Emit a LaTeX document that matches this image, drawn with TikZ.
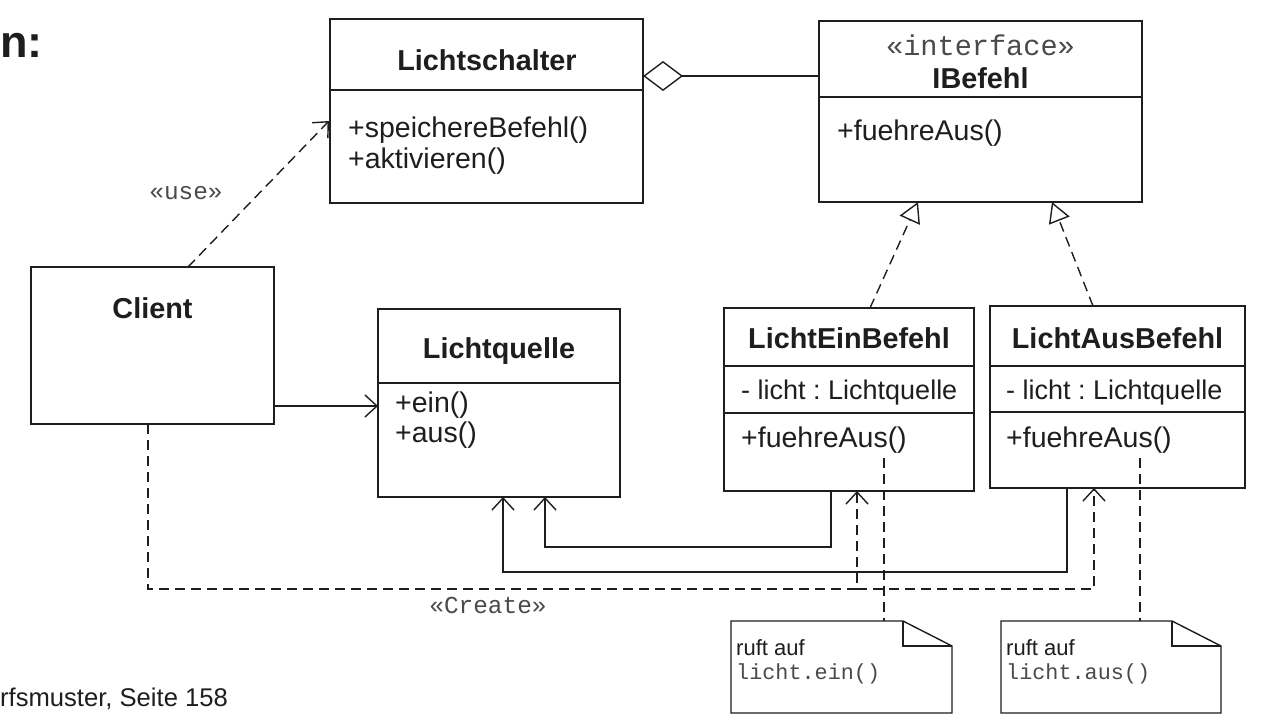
\documentclass[tikz,border=0pt]{standalone}
\usepackage{fontspec}
\setmainfont{Liberation Sans}
\setmonofont{Liberation Mono}
\usetikzlibrary{arrows.meta,calc}
\definecolor{ink}{HTML}{1E1E1E}
\definecolor{stereo}{HTML}{4A4A4A}
\frenchspacing
\begin{document}
\begin{tikzpicture}[x=1pt,y=-1pt,
  box/.style={draw=ink,line width=1.5pt,anchor=north west,inner sep=0pt,outer sep=0pt},
  ghost/.style={anchor=north west,inner sep=0pt,outer sep=0pt},
  sepline/.style={draw=ink,line width=1.4pt},
  ttl/.style={font=\fontsize{28.8}{30}\selectfont\bfseries,text=ink,anchor=base,inner sep=0pt},
  mem/.style={font=\fontsize{28.5}{30}\selectfont,text=ink,anchor=base west,inner sep=0pt},
  ster/.style={font=\ttfamily\fontsize{24.4}{26}\selectfont,text=stereo,anchor=base,inner sep=0pt},
  notetxt/.style={font=\fontsize{22}{24}\selectfont,text=ink,anchor=base west,inner sep=0pt},
  notecode/.style={font=\ttfamily\fontsize{21.8}{24}\selectfont,text=stereo,anchor=base west,inner sep=0pt},
  conn/.style={draw=ink,line width=1.4pt},
  dep/.style={conn,dash pattern=on 10pt off 6pt},
  opentip/.style={-{Straight Barb[length=12pt,width=22pt,line width=1.4pt]}},
  realtip/.style={-{Triangle[open,length=20pt,width=22pt,line width=1.4pt,fill=white]}},
  aggtip/.style={-{Diamond[open,length=40pt,width=30pt,line width=1.4pt,fill=white]}}
]
\useasboundingbox[fill=white] (0,0) rectangle (1286,728);

% header / footer texts
\node[anchor=base west,inner sep=0pt,font=\fontsize{45}{47}\selectfont\bfseries,text=ink] (title) at (0,57) {n:};
\node[anchor=base west,inner sep=0pt,font=\fontsize{25.6}{27}\selectfont,text=ink] (footer) at (0,706) {rfsmuster, Seite 158};

% Lichtschalter
\node[box,minimum width=313pt,minimum height=184pt] (ls) at (330,19) {};
\draw[sepline] ($(ls.north west)+(0,71)$) -- ($(ls.north east)+(0,71)$);
\node[ttl] (lsT) at (487,70) {Lichtschalter};
\node[mem] (lsM1) at (348,137) {+speichereBefehl()};
\node[mem] (lsM2) at (348,168) {+aktivieren()};

% IBefehl
\node[box,minimum width=323pt,minimum height=181pt] (ib) at (819,21) {};
\draw[sepline] ($(ib.north west)+(0,76)$) -- ($(ib.north east)+(0,76)$);
\node[ster,font=\ttfamily\fontsize{28.6}{30}\selectfont] (ibS) at (980.5,55) {«interface»};
\node[ttl] (ibT) at (980.5,88) {IBefehl};
\node[mem] (ibM) at (837,140) {+fuehreAus()};

% Client
\node[box,minimum width=243pt,minimum height=157pt] (client) at (31,267) {};
\node[ttl] (clT) at (152.5,318) {Client};

% Lichtquelle
\node[box,minimum width=242pt,minimum height=188pt] (lq) at (378,309) {};
\draw[sepline] ($(lq.north west)+(0,74)$) -- ($(lq.north east)+(0,74)$);
\node[ttl] (lqT) at (499,358) {Lichtquelle};
\node[mem] (lqM1) at (395,412) {+ein()};
\node[mem] (lqM2) at (395,442) {+aus()};

% LichtEinBefehl
\node[box,minimum width=250pt,minimum height=183pt] (le) at (724,308) {};
\draw[sepline] ($(le.north west)+(0,58)$) -- ($(le.north east)+(0,58)$);
\draw[sepline] ($(le.north west)+(0,105)$) -- ($(le.north east)+(0,105)$);
\node[ttl] (leT) at (849,348) {LichtEinBefehl};
\node[mem,font=\fontsize{27}{29}\selectfont] (leA) at (741,399) {- licht : Lichtquelle};
\node[mem] (leM) at (741,447) {+fuehreAus()};

% LichtAusBefehl
\node[box,minimum width=255pt,minimum height=182pt] (la) at (990,306) {};
\draw[sepline] ($(la.north west)+(0,60)$) -- ($(la.north east)+(0,60)$);
\draw[sepline] ($(la.north west)+(0,106)$) -- ($(la.north east)+(0,106)$);
\node[ttl] (laT) at (1117.5,348) {LichtAusBefehl};
\node[mem,font=\fontsize{27}{29}\selectfont] (laA) at (1006,399) {- licht : Lichtquelle};
\node[mem] (laM) at (1006,447) {+fuehreAus()};

% Notes
\node[ghost,minimum width=221pt,minimum height=92pt] (n1) at (731,621) {};
\draw[conn] (n1.north west) -- ($(n1.north east)+(-49,0)$) -- ($(n1.north east)+(0,25)$) -- (n1.south east) -- (n1.south west) -- cycle;
\draw[conn] ($(n1.north east)+(-49,0)$) -- ($(n1.north east)+(-49,25)$) -- ($(n1.north east)+(0,25)$);
\node[notetxt] (n1a) at (736,655) {ruft auf};
\node[notecode] (n1b) at (736,679) {licht.ein()};

\node[ghost,minimum width=220pt,minimum height=92pt] (n2) at (1001,621) {};
\draw[conn] (n2.north west) -- ($(n2.north east)+(-49,0)$) -- ($(n2.north east)+(0,25)$) -- (n2.south east) -- (n2.south west) -- cycle;
\draw[conn] ($(n2.north east)+(-49,0)$) -- ($(n2.north east)+(-49,25)$) -- ($(n2.north east)+(0,25)$);
\node[notetxt] (n2a) at (1006,655) {ruft auf};
\node[notecode] (n2b) at (1006,679) {licht.aus()};

% Connectors
% use
\draw[dep,opentip] ($(client.north west)+(157,0)$) -- ($(ls.north west)+(-1,102)$);
\node[ster] (useL) at (186,199) {«use»};
% aggregation
\draw[conn,aggtip] ($(ib.north west)+(0,55)$) -- ($(ls.north east)+(0,57)$);
% Client -> Lichtquelle
\draw[conn,opentip] ($(client.north east)+(0,139)$) -- ($(lq.north west)+(0,97)$);
% realizations
\draw[dep,realtip] ($(le.north west)+(146,0)$) -- ($(ib.south west)+(99,0)$);
\draw[dep,realtip] ($(la.north west)+(103,0)$) -- ($(ib.south west)+(233,0)$);
% associations to Lichtquelle
\draw[conn,opentip] ($(le.south west)+(107,0)$) |- ($(lq.south west)+(167,50)$) -- ($(lq.south west)+(167,0)$);
\draw[conn,opentip] ($(la.south west)+(77,0)$) |- ($(lq.south west)+(125,75)$) -- ($(lq.south west)+(125,0)$);
% create
\coordinate (cr) at ($(le.south west)+(133,98)$);
\draw[dep,opentip] ($(client.south west)+(117,0)$) |- (cr) -- ($(le.south west)+(133,0)$);
\draw[dep,opentip] (cr) -| ($(la.south west)+(104,0)$);
\node[ster] (crL) at (488,613) {«Create»};
% note links
\draw[dep] ($(le.north west)+(160,150)$) -- ($(n1.north west)+(153,0)$);
\draw[dep] ($(la.north west)+(150,152)$) -- ($(n2.north west)+(139,0)$);
\end{tikzpicture}
\end{document}
